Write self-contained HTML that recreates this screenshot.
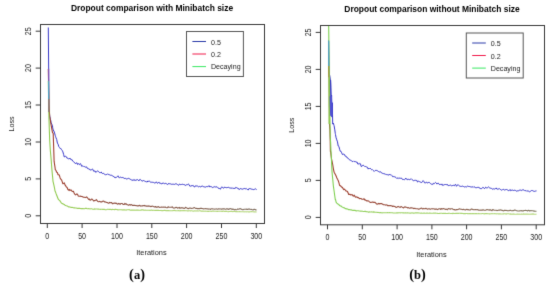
<!DOCTYPE html>
<html><head><meta charset="utf-8"><style>
html,body{margin:0;padding:0;background:#fff;width:550px;height:285px;overflow:hidden}
svg{display:block}
.t{font-family:"Liberation Sans",sans-serif;font-size:7.1px;fill:#1a1a1a}
.ti{font-family:"Liberation Sans",sans-serif;font-size:8.45px;font-weight:bold;fill:#000}
.cap{font-family:"Liberation Serif",serif;font-size:12.5px;font-weight:bold;fill:#000}
</style></head><body>
<svg width="550" height="285" viewBox="0 0 550 285">
<defs>
<filter id="soft" x="0" y="0" width="550" height="285" filterUnits="userSpaceOnUse" color-interpolation-filters="sRGB"><feConvolveMatrix order="3" kernelMatrix="0.0100 0.0800 0.0100 0.0800 0.6400 0.0800 0.0100 0.0800 0.0100" divisor="1" edgeMode="duplicate"/></filter>
<linearGradient id="gRL" gradientUnits="userSpaceOnUse" x1="50" y1="0" x2="260" y2="0"><stop offset="0" stop-color="#a03a2a"/><stop offset="0.3" stop-color="#905040"/><stop offset="1" stop-color="#807060"/></linearGradient>
<linearGradient id="gRR" gradientUnits="userSpaceOnUse" x1="330" y1="0" x2="540" y2="0"><stop offset="0" stop-color="#a03a2a"/><stop offset="0.3" stop-color="#985040"/><stop offset="1" stop-color="#807860"/></linearGradient>
<linearGradient id="gGL" gradientUnits="userSpaceOnUse" x1="50" y1="0" x2="260" y2="0"><stop offset="0" stop-color="#8cc84a"/><stop offset="0.2" stop-color="#a0d060"/><stop offset="1" stop-color="#b8d880"/></linearGradient>
<linearGradient id="gGR" gradientUnits="userSpaceOnUse" x1="330" y1="0" x2="540" y2="0"><stop offset="0" stop-color="#7cd050"/><stop offset="0.2" stop-color="#98d060"/><stop offset="1" stop-color="#b8d880"/></linearGradient>
<clipPath id="cl"><rect x="40.5" y="24.5" width="224" height="199"/></clipPath>
<clipPath id="cr"><rect x="320.5" y="25.5" width="224" height="199.3"/></clipPath>
</defs>
<g filter="url(#soft)">
<rect width="550" height="285" fill="#fff"/>
<g clip-path="url(#cl)">
<polyline points="48.3,27.5 49.0,108.7 49.7,115.8 50.4,119.9 50.7,120.0 51.1,122.9 51.8,124.2 52.5,125.8 52.7,127.9 53.2,130.0 53.9,131.0 54.6,133.1 55.3,135.7 55.5,136.3 56.0,137.8 56.7,139.5 57.4,143.1 58.1,144.2 58.7,146.4 59.4,147.4 60.1,148.5 60.8,148.4 61.5,149.7 62.2,150.3 62.9,151.9 63.6,154.4 64.3,157.0 65.0,156.4 65.7,156.2 66.4,156.9 67.1,158.3 67.8,158.2 68.5,158.8 69.2,158.8 69.9,158.0 70.6,159.4 71.3,159.6 72.0,159.6 72.7,161.1 73.4,161.6 74.1,162.0 74.8,162.8 75.5,163.8 76.2,163.1 76.9,162.7 77.6,164.5 78.3,163.6 79.0,164.2 79.6,164.7 80.3,163.5 81.0,164.6 81.7,166.3 82.4,166.0 83.1,165.9 83.8,166.6 84.5,166.6 85.2,167.2 85.9,167.0 86.6,166.9 87.3,168.4 88.0,168.4 88.7,168.9 89.4,169.0 90.1,170.0 90.8,170.0 91.5,169.7 92.2,169.1 92.9,169.4 93.6,171.2 94.3,171.2 95.0,170.8 95.7,172.3 96.4,171.8 97.1,171.4 97.8,170.8 98.5,171.4 99.2,172.3 99.9,172.7 100.5,172.6 101.2,172.0 101.9,173.2 102.6,173.5 103.3,173.3 104.0,173.8 104.7,174.2 105.4,174.9 106.1,174.5 106.8,174.6 107.5,173.9 108.2,174.2 108.9,174.8 109.6,174.8 110.3,175.3 111.0,174.8 111.7,175.4 112.4,175.6 113.1,176.6 113.8,176.3 114.5,177.5 115.2,177.9 115.9,177.1 116.6,177.3 117.3,176.6 118.0,175.8 118.7,177.4 119.4,177.7 120.1,177.2 120.8,177.2 121.5,177.6 122.1,177.7 122.8,177.4 123.5,177.7 124.2,178.6 124.9,178.3 125.6,178.4 126.3,179.0 127.0,178.6 127.7,178.9 128.4,178.2 129.1,178.6 129.8,178.9 130.5,179.4 131.2,179.5 131.9,180.5 132.6,180.2 133.3,179.6 134.0,180.6 134.7,179.6 135.4,180.5 136.1,179.7 136.8,180.2 137.5,179.6 138.2,180.1 138.9,180.9 139.6,179.6 140.3,179.4 141.0,180.4 141.7,180.7 142.4,180.9 143.0,181.2 143.7,180.4 144.4,181.1 145.1,181.2 145.8,181.7 146.5,181.8 147.2,182.0 147.9,180.9 148.6,181.4 149.3,181.1 150.0,181.7 150.7,182.2 151.4,182.2 152.1,182.4 152.8,182.2 153.5,182.4 154.2,182.7 154.9,183.2 155.6,182.8 156.3,181.8 157.0,182.9 157.7,183.3 158.4,182.5 159.1,182.2 159.8,183.5 160.5,183.3 161.2,183.6 161.9,184.0 162.6,183.0 163.3,183.1 163.9,183.3 164.6,183.7 165.3,183.3 166.0,183.8 166.7,183.8 167.4,184.4 168.1,184.3 168.8,183.2 169.5,183.9 170.2,183.8 170.9,184.0 171.6,184.3 172.3,184.3 173.0,183.9 173.7,184.3 174.4,184.4 175.1,184.2 175.8,183.7 176.5,183.9 177.2,184.3 177.9,185.0 178.6,185.3 179.3,184.2 180.0,184.1 180.7,184.7 181.4,184.5 182.1,184.3 182.8,184.3 183.5,184.5 184.2,185.0 184.8,184.5 185.5,185.5 186.2,184.8 186.9,184.8 187.6,184.6 188.3,184.1 189.0,184.5 189.7,186.0 190.4,186.4 191.1,185.4 191.8,186.0 192.5,185.6 193.2,185.4 193.9,186.7 194.6,187.0 195.3,185.9 196.0,185.8 196.7,186.0 197.4,186.0 198.1,186.5 198.8,186.9 199.5,186.4 200.2,186.8 200.9,187.0 201.6,186.1 202.3,186.1 203.0,186.2 203.7,186.8 204.4,186.9 205.1,187.1 205.8,187.0 206.4,186.6 207.1,186.9 207.8,186.4 208.5,186.2 209.2,185.7 209.9,187.1 210.6,186.5 211.3,186.7 212.0,187.0 212.7,187.6 213.4,187.2 214.1,186.6 214.8,186.9 215.5,187.0 216.2,187.1 216.9,186.6 217.6,187.3 218.3,188.4 219.0,188.0 219.7,188.7 220.4,189.2 221.1,187.8 221.8,186.8 222.5,187.4 223.2,188.2 223.9,188.0 224.6,187.1 225.3,187.4 226.0,187.6 226.7,187.7 227.3,187.6 228.0,187.3 228.7,187.4 229.4,187.8 230.1,188.3 230.8,187.9 231.5,188.2 232.2,187.7 232.9,188.6 233.6,188.3 234.3,188.3 235.0,188.7 235.7,187.4 236.4,187.5 237.1,188.4 237.8,188.1 238.5,188.5 239.2,189.7 239.9,188.7 240.6,188.6 241.3,188.8 242.0,189.3 242.7,189.1 243.4,188.8 244.1,188.3 244.8,188.7 245.5,188.8 246.2,188.4 246.9,189.3 247.6,189.6 248.2,190.0 248.9,188.6 249.6,188.6 250.3,188.7 251.0,188.9 251.7,189.2 252.4,189.3 253.1,189.5 253.8,189.6 254.5,189.3 255.2,188.7 255.9,189.1 256.6,189.6" fill="none" stroke="#3636c8" stroke-width="1.0" stroke-linejoin="round"/>
<polyline points="48.3,68.9 49.0,105.0 49.7,116.4 50.4,120.6 51.1,124.8 51.8,128.8 52.5,132.7 53.2,133.3 53.6,144.9 53.9,154.6 54.1,161.2 54.6,164.6 55.0,167.1 55.3,169.7 56.0,170.5 56.7,172.3 57.4,172.5 58.1,174.8 58.7,174.8 59.4,175.3 60.1,177.9 60.8,179.2 61.5,179.8 62.2,181.6 62.9,183.8 63.6,183.4 64.3,182.8 65.0,184.9 65.7,185.9 66.4,187.0 67.1,187.4 67.8,189.3 68.5,190.1 69.2,189.3 69.9,190.6 70.6,190.0 71.3,190.0 72.0,191.2 72.7,191.5 73.4,191.3 74.1,193.0 74.8,194.1 75.5,194.9 76.2,194.4 76.9,193.8 77.6,194.4 78.3,195.9 79.0,196.3 79.6,196.2 80.3,196.1 81.0,196.4 81.7,196.5 82.4,196.6 83.1,197.1 83.8,197.2 84.5,197.3 85.2,197.6 85.9,197.3 86.6,196.9 87.3,197.7 88.0,198.5 88.7,199.4 89.4,199.0 90.1,200.1 90.8,200.0 91.5,199.0 92.2,199.2 92.9,200.0 93.6,200.9 94.3,200.6 95.0,200.7 95.7,200.1 96.4,199.6 97.1,200.7 97.8,201.5 98.5,201.7 99.2,201.4 99.9,201.5 100.5,201.9 101.2,201.7 101.9,202.0 102.6,201.2 103.3,201.1 104.0,201.3 104.7,202.0 105.4,201.9 106.1,202.2 106.8,202.5 107.5,202.6 108.2,203.2 108.9,203.2 109.6,202.4 110.3,202.7 111.0,202.6 111.7,202.6 112.4,203.7 113.1,203.6 113.8,203.1 114.5,203.1 115.2,203.4 115.9,203.0 116.6,203.4 117.3,204.1 118.0,204.0 118.7,203.4 119.4,203.7 120.1,204.4 120.8,203.5 121.5,203.5 122.1,203.5 122.8,204.2 123.5,204.4 124.2,204.5 124.9,203.4 125.6,204.1 126.3,203.9 127.0,204.6 127.7,204.7 128.4,205.3 129.1,204.9 129.8,204.5 130.5,205.2 131.2,204.6 131.9,204.9 132.6,205.5 133.3,205.4 134.0,205.4 134.7,205.3 135.4,205.5 136.1,205.7 136.8,205.6 137.5,205.9 138.2,206.0 138.9,205.5 139.6,205.3 140.3,206.1 141.0,205.8 141.7,206.0 142.4,206.0 143.0,205.5 143.7,205.8 144.4,205.4 145.1,206.0 145.8,205.9 146.5,206.1 147.2,206.3 147.9,205.9 148.6,206.1 149.3,206.0 150.0,206.2 150.7,206.6 151.4,206.4 152.1,206.2 152.8,206.1 153.5,206.7 154.2,206.7 154.9,207.1 155.6,206.5 156.3,207.1 157.0,207.4 157.7,206.8 158.4,206.5 159.1,207.3 159.8,207.4 160.5,207.3 161.2,207.3 161.9,206.9 162.6,207.3 163.3,207.2 163.9,206.9 164.6,207.2 165.3,207.0 166.0,207.5 166.7,207.7 167.4,207.7 168.1,206.7 168.8,207.2 169.5,207.2 170.2,207.2 170.9,207.2 171.6,207.2 172.3,206.8 173.0,207.7 173.7,208.1 174.4,208.0 175.1,207.9 175.8,207.3 176.5,207.3 177.2,207.9 177.9,208.1 178.6,207.7 179.3,207.4 180.0,208.4 180.7,207.8 181.4,208.0 182.1,207.6 182.8,208.1 183.5,208.1 184.2,208.4 184.8,208.2 185.5,207.4 186.2,207.6 186.9,208.1 187.6,208.4 188.3,208.7 189.0,208.3 189.7,208.1 190.4,208.1 191.1,208.2 191.8,208.5 192.5,208.3 193.2,208.1 193.9,207.7 194.6,207.6 195.3,208.2 196.0,208.5 196.7,208.4 197.4,208.6 198.1,208.6 198.8,208.5 199.5,208.7 200.2,208.3 200.9,208.4 201.6,208.4 202.3,208.5 203.0,208.8 203.7,208.9 204.4,208.7 205.1,208.7 205.8,208.5 206.4,208.7 207.1,209.0 207.8,208.8 208.5,209.1 209.2,209.0 209.9,209.0 210.6,209.4 211.3,208.8 212.0,208.7 212.7,208.9 213.4,209.0 214.1,209.0 214.8,209.2 215.5,209.0 216.2,209.0 216.9,208.9 217.6,209.2 218.3,208.9 219.0,208.8 219.7,209.0 220.4,209.0 221.1,208.9 221.8,209.4 222.5,208.9 223.2,208.8 223.9,208.9 224.6,208.9 225.3,209.2 226.0,209.1 226.7,208.8 227.3,208.9 228.0,209.1 228.7,209.5 229.4,208.9 230.1,208.6 230.8,208.7 231.5,209.1 232.2,209.5 232.9,209.0 233.6,209.3 234.3,209.9 235.0,209.3 235.7,209.7 236.4,209.7 237.1,209.4 237.8,208.9 238.5,209.2 239.2,209.1 239.9,208.6 240.6,208.7 241.3,209.2 242.0,209.4 242.7,209.7 243.4,209.6 244.1,209.2 244.8,209.2 245.5,209.2 246.2,209.1 246.9,209.5 247.6,209.4 248.2,209.1 248.9,209.1 249.6,209.0 250.3,209.3 251.0,209.5 251.7,209.4 252.4,209.8 253.1,210.0 253.8,209.4 254.5,209.4 255.2,209.5 255.9,210.0 256.6,209.7" fill="none" stroke="url(#gRL)" stroke-width="1.1" stroke-linejoin="round"/>
<polyline points="48.3,80.7 49.0,119.8 49.7,140.3 50.4,151.2 51.1,158.7 51.2,160.1 51.8,168.3 52.1,171.6 52.5,175.7 53.0,181.3 53.2,182.2 53.9,185.2 54.6,188.5 55.0,191.0 55.3,191.3 56.0,193.4 56.7,195.2 57.4,197.0 58.1,198.9 58.7,199.7 59.4,200.3 60.1,201.0 60.8,202.2 61.5,203.1 62.2,203.6 62.9,203.8 63.6,204.3 64.3,204.5 65.0,205.2 65.7,205.5 66.4,205.8 67.1,206.0 67.8,206.3 68.5,206.9 69.2,207.0 69.9,206.9 70.6,207.2 71.3,207.5 72.0,207.3 72.7,207.5 73.4,207.7 74.1,207.9 74.8,207.9 75.5,208.0 76.2,208.0 76.9,208.3 77.6,208.4 78.3,208.3 79.0,208.4 79.6,208.3 80.3,208.5 81.0,208.6 81.7,208.6 82.4,208.6 83.1,208.5 83.8,208.7 84.5,208.7 85.2,208.4 85.9,208.3 86.6,208.4 87.3,208.7 88.0,208.7 88.7,208.6 89.4,208.8 90.1,209.0 90.8,208.8 91.5,208.8 92.2,209.0 92.9,209.2 93.6,209.2 94.3,208.9 95.0,209.1 95.7,209.0 96.4,209.0 97.1,209.0 97.8,209.1 98.5,209.1 99.2,209.3 99.9,209.3 100.5,209.4 101.2,209.2 101.9,209.3 102.6,209.4 103.3,209.4 104.0,209.4 104.7,209.4 105.4,209.7 106.1,209.7 106.8,209.5 107.5,209.2 108.2,209.3 108.9,209.5 109.6,209.4 110.3,209.3 111.0,209.5 111.7,209.6 112.4,209.4 113.1,209.5 113.8,209.5 114.5,209.6 115.2,209.4 115.9,209.4 116.6,209.5 117.3,209.6 118.0,209.9 118.7,209.7 119.4,209.7 120.1,209.7 120.8,209.7 121.5,209.8 122.1,210.0 122.8,209.8 123.5,209.9 124.2,209.9 124.9,209.9 125.6,210.0 126.3,210.1 127.0,209.8 127.7,209.8 128.4,209.7 129.1,209.6 129.8,209.9 130.5,210.2 131.2,210.1 131.9,210.1 132.6,210.1 133.3,210.0 134.0,210.2 134.7,210.1 135.4,210.2 136.1,210.0 136.8,210.1 137.5,210.1 138.2,210.1 138.9,210.2 139.6,210.2 140.3,210.3 141.0,210.1 141.7,209.9 142.4,209.8 143.0,209.9 143.7,210.1 144.4,210.2 145.1,210.0 145.8,210.2 146.5,210.2 147.2,210.3 147.9,210.3 148.6,210.3 149.3,210.3 150.0,210.4 150.7,210.3 151.4,210.1 152.1,210.3 152.8,210.4 153.5,210.3 154.2,210.3 154.9,210.5 155.6,210.4 156.3,210.3 157.0,210.4 157.7,210.4 158.4,210.3 159.1,210.5 159.8,210.5 160.5,210.5 161.2,210.4 161.9,210.7 162.6,210.6 163.3,210.6 163.9,210.4 164.6,210.4 165.3,210.4 166.0,210.7 166.7,210.5 167.4,210.6 168.1,210.6 168.8,210.5 169.5,210.7 170.2,210.8 170.9,210.7 171.6,210.8 172.3,210.7 173.0,210.6 173.7,210.5 174.4,210.4 175.1,210.6 175.8,210.8 176.5,210.8 177.2,210.8 177.9,210.8 178.6,210.6 179.3,210.8 180.0,210.9 180.7,210.6 181.4,210.7 182.1,210.6 182.8,210.7 183.5,210.6 184.2,210.7 184.8,210.6 185.5,210.7 186.2,210.7 186.9,210.8 187.6,210.9 188.3,210.9 189.0,210.8 189.7,210.8 190.4,210.9 191.1,210.7 191.8,210.8 192.5,211.0 193.2,211.1 193.9,211.0 194.6,210.9 195.3,211.0 196.0,210.9 196.7,211.0 197.4,210.9 198.1,211.0 198.8,211.0 199.5,210.8 200.2,210.7 200.9,211.1 201.6,211.1 202.3,211.1 203.0,211.0 203.7,211.2 204.4,211.2 205.1,211.1 205.8,211.2 206.4,211.2 207.1,211.2 207.8,211.4 208.5,211.4 209.2,211.2 209.9,211.2 210.6,211.2 211.3,211.4 212.0,211.3 212.7,211.1 213.4,211.1 214.1,211.3 214.8,211.3 215.5,211.2 216.2,211.3 216.9,211.4 217.6,211.4 218.3,211.2 219.0,211.2 219.7,211.2 220.4,211.3 221.1,211.3 221.8,211.4 222.5,211.4 223.2,211.1 223.9,211.3 224.6,211.5 225.3,211.4 226.0,211.4 226.7,211.3 227.3,211.5 228.0,211.7 228.7,211.6 229.4,211.5 230.1,211.5 230.8,211.4 231.5,211.4 232.2,211.5 232.9,211.6 233.6,211.5 234.3,211.3 235.0,211.5 235.7,211.6 236.4,211.6 237.1,211.5 237.8,211.7 238.5,211.7 239.2,211.6 239.9,211.6 240.6,211.7 241.3,211.7 242.0,211.7 242.7,211.7 243.4,211.8 244.1,211.9 244.8,211.8 245.5,211.7 246.2,211.9 246.9,211.8 247.6,211.8 248.2,211.9 248.9,211.9 249.6,211.9 250.3,211.7 251.0,211.6 251.7,211.6 252.4,211.8 253.1,211.8 253.8,211.9 254.5,211.9 255.2,211.8 255.9,212.0 256.6,211.9" fill="none" stroke="url(#gGL)" stroke-width="1.1" stroke-linejoin="round"/>
</g>
<g clip-path="url(#cr)">
<polyline points="328.5,40.5 329.2,73.1 329.9,76.3 330.6,82.0 330.9,95.3 331.3,105.4 331.6,95.3 332.0,117.1 332.3,102.7 332.7,124.1 333.4,123.1 333.9,125.2 334.1,125.7 334.8,129.9 335.3,133.6 335.5,134.6 336.1,137.8 336.8,139.9 337.5,141.9 338.2,146.0 338.9,146.4 339.6,149.3 340.3,151.3 341.0,151.3 341.7,152.8 342.4,154.5 343.1,154.5 343.8,154.0 344.5,154.5 345.2,156.2 345.9,156.3 346.6,156.7 347.3,158.0 348.0,158.1 348.7,158.8 349.4,159.8 350.1,160.2 350.8,160.3 351.5,160.7 352.1,161.5 352.8,161.6 353.5,160.9 354.2,161.6 354.9,161.6 355.6,161.7 356.3,162.2 357.0,161.9 357.7,163.9 358.4,163.8 359.1,164.3 359.8,163.3 360.5,163.9 361.2,166.5 361.9,166.4 362.6,165.4 363.3,165.3 364.0,165.7 364.7,166.5 365.4,166.5 366.1,166.6 366.8,167.2 367.5,167.3 368.2,169.1 368.8,168.2 369.5,168.9 370.2,168.2 370.9,169.1 371.6,169.7 372.3,169.5 373.0,170.3 373.7,170.9 374.4,171.3 375.1,170.6 375.8,170.3 376.5,170.3 377.2,171.0 377.9,170.8 378.6,171.6 379.3,172.0 380.0,171.8 380.7,171.8 381.4,172.8 382.1,173.2 382.8,173.4 383.5,173.6 384.2,174.1 384.8,173.6 385.5,174.3 386.2,174.3 386.9,175.0 387.6,174.7 388.3,174.8 389.0,175.2 389.7,174.3 390.4,175.0 391.1,174.7 391.8,175.4 392.5,176.6 393.2,176.7 393.9,176.5 394.6,176.8 395.3,177.1 396.0,177.5 396.7,178.4 397.4,178.0 398.1,178.7 398.8,177.8 399.5,178.2 400.2,178.4 400.8,178.1 401.5,178.1 402.2,179.2 402.9,179.6 403.6,179.5 404.3,179.9 405.0,179.2 405.7,178.1 406.4,179.2 407.1,178.9 407.8,179.8 408.5,179.3 409.2,179.6 409.9,179.6 410.6,179.2 411.3,178.8 412.0,179.6 412.7,180.1 413.4,180.7 414.1,180.2 414.8,180.5 415.5,180.3 416.2,180.6 416.8,180.3 417.5,182.0 418.2,181.5 418.9,181.0 419.6,181.7 420.3,182.1 421.0,182.1 421.7,182.6 422.4,181.7 423.1,180.6 423.8,181.4 424.5,182.8 425.2,182.9 425.9,182.6 426.6,182.1 427.3,183.0 428.0,183.0 428.7,182.3 429.4,182.4 430.1,183.2 430.8,183.9 431.5,184.2 432.2,184.0 432.9,184.5 433.5,183.3 434.2,183.6 434.9,183.1 435.6,182.4 436.3,183.0 437.0,184.1 437.7,183.3 438.4,183.2 439.1,184.3 439.8,184.6 440.5,184.4 441.2,184.8 441.9,183.9 442.6,185.4 443.3,185.2 444.0,184.7 444.7,184.6 445.4,184.5 446.1,184.5 446.8,184.7 447.5,184.5 448.2,185.8 448.9,185.3 449.5,185.4 450.2,185.1 450.9,185.2 451.6,185.8 452.3,185.7 453.0,185.1 453.7,185.4 454.4,185.7 455.1,184.5 455.8,184.6 456.5,186.3 457.2,185.6 457.9,184.6 458.6,185.3 459.3,185.9 460.0,186.2 460.7,186.4 461.4,186.4 462.1,186.4 462.8,186.0 463.5,186.5 464.2,186.8 464.9,187.1 465.5,186.7 466.2,187.0 466.9,186.7 467.6,186.1 468.3,186.4 469.0,186.4 469.7,186.6 470.4,186.8 471.1,187.0 471.8,187.0 472.5,186.8 473.2,187.4 473.9,186.6 474.6,187.1 475.3,187.6 476.0,187.6 476.7,187.7 477.4,187.4 478.1,187.6 478.8,187.1 479.5,188.0 480.2,188.8 480.9,188.4 481.5,188.7 482.2,187.9 482.9,187.3 483.6,187.6 484.3,188.6 485.0,188.3 485.7,187.2 486.4,187.8 487.1,188.0 487.8,187.5 488.5,186.9 489.2,187.5 489.9,188.1 490.6,188.2 491.3,188.2 492.0,188.9 492.7,189.2 493.4,188.8 494.1,189.2 494.8,188.9 495.5,188.6 496.2,187.9 496.9,189.1 497.6,189.2 498.2,189.1 498.9,188.8 499.6,188.7 500.3,189.4 501.0,189.8 501.7,190.2 502.4,189.9 503.1,189.2 503.8,189.5 504.5,190.0 505.2,189.8 505.9,189.6 506.6,189.5 507.3,189.9 508.0,190.1 508.7,190.7 509.4,190.4 510.1,189.5 510.8,190.8 511.5,190.3 512.2,190.0 512.9,190.3 513.6,190.5 514.2,190.3 514.9,190.2 515.6,190.5 516.3,191.2 517.0,190.7 517.7,190.9 518.4,190.8 519.1,190.4 519.8,190.1 520.5,190.1 521.2,190.6 521.9,190.1 522.6,189.9 523.3,189.9 524.0,189.9 524.7,190.6 525.4,190.7 526.1,190.5 526.8,191.3 527.5,190.9 528.2,191.1 528.9,191.2 529.6,191.8 530.2,191.5 530.9,190.9 531.6,190.5 532.3,190.5 533.0,191.0 533.7,191.2 534.4,191.4 535.1,191.0 535.8,191.1 536.5,190.9" fill="none" stroke="#3636c8" stroke-width="1.0" stroke-linejoin="round"/>
<polyline points="328.5,65.7 329.2,78.3 329.5,124.9 329.9,129.6 330.2,139.7 330.4,151.5 330.6,151.5 331.3,157.2 331.5,158.8 332.0,161.0 332.7,164.5 333.4,168.8 334.1,172.1 334.4,172.8 334.8,173.4 335.5,174.7 336.1,176.0 336.8,177.7 337.5,179.2 338.2,180.5 338.9,182.6 339.6,185.3 340.3,185.8 341.0,186.3 341.7,187.2 342.4,187.3 343.1,188.7 343.8,189.6 344.5,189.1 345.2,190.0 345.9,190.9 346.6,191.0 347.3,191.4 348.0,192.6 348.7,194.5 349.4,194.2 350.1,194.4 350.8,195.0 351.5,194.7 352.1,194.5 352.8,195.7 353.5,196.1 354.2,195.2 354.9,196.4 355.6,197.2 356.3,196.9 357.0,197.0 357.7,197.7 358.4,197.5 359.1,198.3 359.8,198.7 360.5,198.5 361.2,198.5 361.9,199.3 362.6,199.3 363.3,199.3 364.0,198.7 364.7,200.0 365.4,199.9 366.1,200.6 366.8,200.9 367.5,200.8 368.2,200.9 368.8,201.1 369.5,201.8 370.2,202.4 370.9,202.5 371.6,202.2 372.3,202.1 373.0,202.0 373.7,202.4 374.4,202.3 375.1,202.4 375.8,203.1 376.5,203.9 377.2,204.1 377.9,204.0 378.6,203.3 379.3,203.9 380.0,203.5 380.7,203.6 381.4,203.5 382.1,203.8 382.8,204.4 383.5,204.6 384.2,204.7 384.8,204.8 385.5,205.1 386.2,205.0 386.9,204.8 387.6,205.7 388.3,205.5 389.0,205.8 389.7,205.6 390.4,205.5 391.1,205.8 391.8,205.9 392.5,206.5 393.2,206.1 393.9,206.5 394.6,206.4 395.3,206.7 396.0,207.5 396.7,207.2 397.4,206.7 398.1,206.4 398.8,206.8 399.5,207.0 400.2,207.4 400.8,206.7 401.5,206.6 402.2,207.2 402.9,207.5 403.6,207.9 404.3,207.2 405.0,206.7 405.7,207.2 406.4,207.3 407.1,207.6 407.8,208.0 408.5,207.6 409.2,208.2 409.9,208.1 410.6,207.9 411.3,207.7 412.0,207.9 412.7,208.0 413.4,208.4 414.1,208.6 414.8,208.3 415.5,208.6 416.2,208.8 416.8,208.8 417.5,208.7 418.2,209.1 418.9,209.1 419.6,209.0 420.3,208.6 421.0,208.3 421.7,208.1 422.4,208.9 423.1,208.8 423.8,208.4 424.5,208.7 425.2,208.7 425.9,208.2 426.6,208.8 427.3,209.1 428.0,209.1 428.7,208.7 429.4,208.7 430.1,209.2 430.8,209.1 431.5,208.7 432.2,208.7 432.9,208.9 433.5,208.7 434.2,208.8 434.9,209.4 435.6,209.1 436.3,208.9 437.0,209.2 437.7,209.6 438.4,209.1 439.1,208.7 439.8,208.7 440.5,209.4 441.2,208.5 441.9,209.2 442.6,208.8 443.3,208.6 444.0,208.8 444.7,209.1 445.4,209.4 446.1,209.1 446.8,209.5 447.5,209.7 448.2,208.5 448.9,208.7 449.5,208.7 450.2,209.3 450.9,208.8 451.6,208.7 452.3,208.8 453.0,209.3 453.7,209.6 454.4,209.5 455.1,210.0 455.8,209.9 456.5,209.5 457.2,209.6 457.9,209.5 458.6,209.3 459.3,208.8 460.0,209.0 460.7,209.3 461.4,209.2 462.1,209.6 462.8,209.5 463.5,209.3 464.2,209.8 464.9,209.7 465.5,209.9 466.2,209.5 466.9,209.2 467.6,209.7 468.3,209.6 469.0,209.9 469.7,210.0 470.4,209.9 471.1,209.2 471.8,208.9 472.5,209.5 473.2,209.8 473.9,209.6 474.6,209.7 475.3,209.5 476.0,209.6 476.7,209.7 477.4,209.6 478.1,209.9 478.8,210.1 479.5,210.3 480.2,210.1 480.9,210.3 481.5,210.0 482.2,210.1 482.9,209.9 483.6,209.9 484.3,210.3 485.0,210.3 485.7,210.2 486.4,209.8 487.1,209.5 487.8,209.7 488.5,210.0 489.2,209.8 489.9,210.3 490.6,209.8 491.3,210.3 492.0,210.7 492.7,209.5 493.4,209.7 494.1,210.3 494.8,210.2 495.5,210.2 496.2,210.3 496.9,210.6 497.6,210.5 498.2,210.2 498.9,210.1 499.6,210.0 500.3,210.1 501.0,209.8 501.7,210.4 502.4,210.4 503.1,210.9 503.8,210.7 504.5,210.2 505.2,210.5 505.9,210.3 506.6,210.5 507.3,210.7 508.0,210.6 508.7,210.7 509.4,210.6 510.1,210.3 510.8,210.4 511.5,210.7 512.2,210.8 512.9,210.6 513.6,210.6 514.2,210.2 514.9,209.9 515.6,210.3 516.3,210.6 517.0,210.8 517.7,211.0 518.4,211.0 519.1,211.0 519.8,210.9 520.5,210.8 521.2,210.6 521.9,210.9 522.6,210.9 523.3,211.0 524.0,210.5 524.7,210.5 525.4,210.4 526.1,210.5 526.8,210.5 527.5,210.9 528.2,210.6 528.9,210.3 529.6,211.0 530.2,210.7 530.9,210.5 531.6,210.8 532.3,210.8 533.0,210.7 533.7,211.1 534.4,211.0 535.1,211.3 535.8,211.3 536.5,211.3" fill="none" stroke="url(#gRR)" stroke-width="1.1" stroke-linejoin="round"/>
<polyline points="328.5,10.2 329.2,69.4 329.9,117.0 330.2,136.3 330.6,142.2 330.9,150.1 331.3,156.6 332.0,171.6 332.7,178.9 333.4,186.1 334.1,191.0 334.8,196.3 335.3,199.6 335.5,199.4 336.1,202.2 336.8,203.1 337.5,203.7 338.2,204.3 338.9,204.6 339.6,205.6 340.3,205.9 341.0,206.0 341.7,206.7 342.4,207.1 343.1,207.4 343.8,207.8 344.5,207.9 345.2,208.6 345.9,208.6 346.6,209.0 347.3,208.9 348.0,209.2 348.7,209.7 349.4,209.6 350.1,209.8 350.8,209.9 351.5,209.8 352.1,210.3 352.8,210.4 353.5,210.3 354.2,210.4 354.9,210.4 355.6,210.6 356.3,210.9 357.0,210.8 357.7,210.7 358.4,210.8 359.1,211.0 359.8,211.0 360.5,211.1 361.2,211.2 361.9,211.0 362.6,211.3 363.3,211.5 364.0,211.5 364.7,211.4 365.4,211.4 366.1,211.6 366.8,211.8 367.5,211.8 368.2,212.1 368.8,212.1 369.5,211.9 370.2,212.0 370.9,212.0 371.6,211.9 372.3,212.0 373.0,212.1 373.7,211.9 374.4,212.1 375.1,212.3 375.8,212.2 376.5,212.3 377.2,212.5 377.9,212.4 378.6,212.5 379.3,212.8 380.0,212.6 380.7,212.6 381.4,212.7 382.1,212.9 382.8,212.8 383.5,212.7 384.2,212.7 384.8,212.8 385.5,212.7 386.2,212.8 386.9,212.7 387.6,212.6 388.3,212.8 389.0,212.8 389.7,212.6 390.4,212.8 391.1,212.8 391.8,212.7 392.5,212.7 393.2,213.0 393.9,213.0 394.6,213.0 395.3,213.0 396.0,213.0 396.7,212.9 397.4,212.8 398.1,212.9 398.8,212.8 399.5,212.8 400.2,212.9 400.8,212.8 401.5,212.7 402.2,212.8 402.9,212.9 403.6,212.9 404.3,213.0 405.0,212.9 405.7,212.8 406.4,213.0 407.1,212.9 407.8,212.8 408.5,213.0 409.2,213.0 409.9,213.1 410.6,213.1 411.3,213.0 412.0,212.7 412.7,213.0 413.4,213.1 414.1,213.1 414.8,213.0 415.5,212.9 416.2,212.9 416.8,212.8 417.5,212.9 418.2,212.9 418.9,213.0 419.6,213.0 420.3,213.2 421.0,213.1 421.7,213.1 422.4,213.2 423.1,213.3 423.8,213.1 424.5,213.1 425.2,213.2 425.9,213.2 426.6,213.1 427.3,213.1 428.0,213.3 428.7,213.3 429.4,213.1 430.1,213.1 430.8,213.2 431.5,213.3 432.2,213.3 432.9,213.2 433.5,213.1 434.2,213.3 434.9,213.0 435.6,213.1 436.3,213.2 437.0,213.2 437.7,213.4 438.4,213.5 439.1,213.5 439.8,213.4 440.5,213.3 441.2,213.3 441.9,213.3 442.6,213.5 443.3,213.3 444.0,213.5 444.7,213.4 445.4,213.4 446.1,213.5 446.8,213.5 447.5,213.5 448.2,213.4 448.9,213.3 449.5,213.3 450.2,213.5 450.9,213.5 451.6,213.5 452.3,213.4 453.0,213.6 453.7,213.3 454.4,213.5 455.1,213.5 455.8,213.4 456.5,213.3 457.2,213.4 457.9,213.3 458.6,213.4 459.3,213.3 460.0,213.3 460.7,213.4 461.4,213.3 462.1,213.4 462.8,213.5 463.5,213.6 464.2,213.6 464.9,213.5 465.5,213.6 466.2,213.5 466.9,213.5 467.6,213.6 468.3,213.8 469.0,213.6 469.7,213.5 470.4,213.6 471.1,213.6 471.8,213.8 472.5,213.6 473.2,213.6 473.9,213.6 474.6,213.8 475.3,213.6 476.0,213.6 476.7,213.6 477.4,213.7 478.1,213.7 478.8,213.4 479.5,213.7 480.2,213.8 480.9,213.7 481.5,213.8 482.2,213.5 482.9,213.5 483.6,213.8 484.3,213.9 485.0,213.6 485.7,213.6 486.4,213.6 487.1,213.6 487.8,213.8 488.5,213.8 489.2,213.9 489.9,213.9 490.6,213.7 491.3,213.8 492.0,213.6 492.7,213.7 493.4,213.8 494.1,213.7 494.8,213.6 495.5,213.8 496.2,213.9 496.9,213.8 497.6,213.7 498.2,213.9 498.9,213.9 499.6,213.8 500.3,213.9 501.0,214.0 501.7,214.0 502.4,214.0 503.1,213.9 503.8,213.9 504.5,213.8 505.2,213.8 505.9,214.1 506.6,213.9 507.3,213.8 508.0,213.8 508.7,213.8 509.4,214.0 510.1,214.1 510.8,213.9 511.5,214.1 512.2,214.2 512.9,213.9 513.6,214.1 514.2,214.1 514.9,214.2 515.6,214.2 516.3,214.2 517.0,214.1 517.7,214.1 518.4,214.3 519.1,214.0 519.8,214.2 520.5,214.2 521.2,214.0 521.9,214.1 522.6,214.2 523.3,213.9 524.0,214.1 524.7,214.1 525.4,214.1 526.1,214.0 526.8,214.1 527.5,214.1 528.2,214.2 528.9,214.1 529.6,214.2 530.2,214.2 530.9,214.0 531.6,214.1 532.3,214.1 533.0,213.9 533.7,214.1 534.4,214.3 535.1,214.2 535.8,214.3 536.5,214.1" fill="none" stroke="url(#gGR)" stroke-width="1.1" stroke-linejoin="round"/>
</g>
<g stroke-width="1.2">
<line x1="48.6" y1="68.7" x2="48.6" y2="81.3" stroke="#8050b0"/>
<line x1="48.6" y1="81.3" x2="48.6" y2="99" stroke="#50a0c0"/>
<line x1="48.8" y1="99" x2="48.8" y2="112" stroke="#907080"/>
<line x1="328.7" y1="40.8" x2="328.7" y2="66" stroke="#50a0c0"/>
<line x1="328.7" y1="66" x2="328.7" y2="77.4" stroke="#a0a040"/>
<line x1="329.1" y1="77.4" x2="329.3" y2="124" stroke="#8cc84a" stroke-width="1.5"/>
<line x1="330.6" y1="80" x2="331.0" y2="97" stroke="#3636c8" stroke-width="1.1"/>
<line x1="330.8" y1="97" x2="331.3" y2="115" stroke="#5050d4" stroke-width="2.4" stroke-linecap="round"/>
</g>
<rect x="40.5" y="24.5" width="224.0" height="199.0" fill="none" stroke="#383838" stroke-width="1"/>
<line x1="47.3" y1="223.5" x2="47.3" y2="228.0" stroke="#383838" stroke-width="1"/>
<text transform="translate(47.3,239.0) scale(1,1.15)" text-anchor="middle" class="t">0</text>
<line x1="82.1" y1="223.5" x2="82.1" y2="228.0" stroke="#383838" stroke-width="1"/>
<text transform="translate(82.1,239.0) scale(1,1.15)" text-anchor="middle" class="t">50</text>
<line x1="117.0" y1="223.5" x2="117.0" y2="228.0" stroke="#383838" stroke-width="1"/>
<text transform="translate(117.0,239.0) scale(1,1.15)" text-anchor="middle" class="t">100</text>
<line x1="151.8" y1="223.5" x2="151.8" y2="228.0" stroke="#383838" stroke-width="1"/>
<text transform="translate(151.8,239.0) scale(1,1.15)" text-anchor="middle" class="t">150</text>
<line x1="186.6" y1="223.5" x2="186.6" y2="228.0" stroke="#383838" stroke-width="1"/>
<text transform="translate(186.6,239.0) scale(1,1.15)" text-anchor="middle" class="t">200</text>
<line x1="221.5" y1="223.5" x2="221.5" y2="228.0" stroke="#383838" stroke-width="1"/>
<text transform="translate(221.5,239.0) scale(1,1.15)" text-anchor="middle" class="t">250</text>
<line x1="256.3" y1="223.5" x2="256.3" y2="228.0" stroke="#383838" stroke-width="1"/>
<text transform="translate(256.3,239.0) scale(1,1.15)" text-anchor="middle" class="t">300</text>
<line x1="35.7" y1="215.8" x2="40.5" y2="215.8" stroke="#383838" stroke-width="1"/>
<text x="0" y="0" transform="translate(30.7,215.8) rotate(-90) scale(1,1.15)" text-anchor="middle" class="t">0</text>
<line x1="35.7" y1="178.9" x2="40.5" y2="178.9" stroke="#383838" stroke-width="1"/>
<text x="0" y="0" transform="translate(30.7,178.9) rotate(-90) scale(1,1.15)" text-anchor="middle" class="t">5</text>
<line x1="35.7" y1="142.0" x2="40.5" y2="142.0" stroke="#383838" stroke-width="1"/>
<text x="0" y="0" transform="translate(30.7,142.0) rotate(-90) scale(1,1.15)" text-anchor="middle" class="t">10</text>
<line x1="35.7" y1="105.0" x2="40.5" y2="105.0" stroke="#383838" stroke-width="1"/>
<text x="0" y="0" transform="translate(30.7,105.0) rotate(-90) scale(1,1.15)" text-anchor="middle" class="t">15</text>
<line x1="35.7" y1="68.1" x2="40.5" y2="68.1" stroke="#383838" stroke-width="1"/>
<text x="0" y="0" transform="translate(30.7,68.1) rotate(-90) scale(1,1.15)" text-anchor="middle" class="t">20</text>
<line x1="35.7" y1="31.2" x2="40.5" y2="31.2" stroke="#383838" stroke-width="1"/>
<text x="0" y="0" transform="translate(30.7,31.2) rotate(-90) scale(1,1.15)" text-anchor="middle" class="t">25</text>
<text transform="translate(151.4,255.2) scale(1.04,1.08)" text-anchor="middle" class="t">Iterations</text>
<text x="0" y="0" transform="translate(13.8,124.0) rotate(-90)" text-anchor="middle" class="t">Loss</text>
<text transform="translate(152,11) scale(1,1.0)" text-anchor="middle" class="ti">Dropout comparison with Minibatch size</text>
<text x="137" y="279" text-anchor="middle" class="cap"><tspan font-size="14.3px">(</tspan>a<tspan font-size="14.3px">)</tspan></text>
<rect x="320.5" y="25.5" width="224.0" height="199.3" fill="none" stroke="#383838" stroke-width="1"/>
<line x1="327.5" y1="224.8" x2="327.5" y2="229.3" stroke="#383838" stroke-width="1"/>
<text transform="translate(327.5,240.3) scale(1,1.15)" text-anchor="middle" class="t">0</text>
<line x1="362.3" y1="224.8" x2="362.3" y2="229.3" stroke="#383838" stroke-width="1"/>
<text transform="translate(362.3,240.3) scale(1,1.15)" text-anchor="middle" class="t">50</text>
<line x1="397.1" y1="224.8" x2="397.1" y2="229.3" stroke="#383838" stroke-width="1"/>
<text transform="translate(397.1,240.3) scale(1,1.15)" text-anchor="middle" class="t">100</text>
<line x1="431.9" y1="224.8" x2="431.9" y2="229.3" stroke="#383838" stroke-width="1"/>
<text transform="translate(431.9,240.3) scale(1,1.15)" text-anchor="middle" class="t">150</text>
<line x1="466.6" y1="224.8" x2="466.6" y2="229.3" stroke="#383838" stroke-width="1"/>
<text transform="translate(466.6,240.3) scale(1,1.15)" text-anchor="middle" class="t">200</text>
<line x1="501.4" y1="224.8" x2="501.4" y2="229.3" stroke="#383838" stroke-width="1"/>
<text transform="translate(501.4,240.3) scale(1,1.15)" text-anchor="middle" class="t">250</text>
<line x1="536.2" y1="224.8" x2="536.2" y2="229.3" stroke="#383838" stroke-width="1"/>
<text transform="translate(536.2,240.3) scale(1,1.15)" text-anchor="middle" class="t">300</text>
<line x1="315.7" y1="217.4" x2="320.5" y2="217.4" stroke="#383838" stroke-width="1"/>
<text x="0" y="0" transform="translate(310.7,217.4) rotate(-90) scale(1,1.15)" text-anchor="middle" class="t">0</text>
<line x1="315.7" y1="180.4" x2="320.5" y2="180.4" stroke="#383838" stroke-width="1"/>
<text x="0" y="0" transform="translate(310.7,180.4) rotate(-90) scale(1,1.15)" text-anchor="middle" class="t">5</text>
<line x1="315.7" y1="143.4" x2="320.5" y2="143.4" stroke="#383838" stroke-width="1"/>
<text x="0" y="0" transform="translate(310.7,143.4) rotate(-90) scale(1,1.15)" text-anchor="middle" class="t">10</text>
<line x1="315.7" y1="106.4" x2="320.5" y2="106.4" stroke="#383838" stroke-width="1"/>
<text x="0" y="0" transform="translate(310.7,106.4) rotate(-90) scale(1,1.15)" text-anchor="middle" class="t">15</text>
<line x1="315.7" y1="69.4" x2="320.5" y2="69.4" stroke="#383838" stroke-width="1"/>
<text x="0" y="0" transform="translate(310.7,69.4) rotate(-90) scale(1,1.15)" text-anchor="middle" class="t">20</text>
<line x1="315.7" y1="32.4" x2="320.5" y2="32.4" stroke="#383838" stroke-width="1"/>
<text x="0" y="0" transform="translate(310.7,32.4) rotate(-90) scale(1,1.15)" text-anchor="middle" class="t">25</text>
<text transform="translate(431.4,256.5) scale(1.04,1.08)" text-anchor="middle" class="t">Iterations</text>
<text x="0" y="0" transform="translate(293.8,125.2) rotate(-90)" text-anchor="middle" class="t">Loss</text>
<text transform="translate(432,12.4) scale(1,1.0)" text-anchor="middle" class="ti">Dropout comparison without Minibatch size</text>
<text x="417.5" y="279" text-anchor="middle" class="cap"><tspan font-size="14.3px">(</tspan>b<tspan font-size="14.3px">)</tspan></text>
<rect x="186.5" y="31.5" width="56.900000000000006" height="45.0" fill="#fff" stroke="#555" stroke-width="1"/>
<line x1="192.4" y1="41.5" x2="206.0" y2="41.5" stroke="#2838a8" stroke-width="1.0"/>
<text x="211.0" y="44.7" class="t">0.5</text>
<line x1="192.4" y1="54.0" x2="206.0" y2="54.0" stroke="#f01848" stroke-width="1.0"/>
<text x="211.0" y="57.0" class="t">0.2</text>
<line x1="192.4" y1="66.6" x2="206.0" y2="66.6" stroke="#38e860" stroke-width="1.0"/>
<text x="211.0" y="69.4" class="t">Decaying</text>
<rect x="466.3" y="33.0" width="56.900000000000006" height="45.0" fill="#fff" stroke="#555" stroke-width="1"/>
<line x1="472.20000000000005" y1="43.0" x2="485.8" y2="43.0" stroke="#2838a8" stroke-width="1.0"/>
<text x="490.8" y="46.2" class="t">0.5</text>
<line x1="472.20000000000005" y1="55.5" x2="485.8" y2="55.5" stroke="#f01848" stroke-width="1.0"/>
<text x="490.8" y="58.5" class="t">0.2</text>
<line x1="472.20000000000005" y1="68.1" x2="485.8" y2="68.1" stroke="#38e860" stroke-width="1.0"/>
<text x="490.8" y="70.9" class="t">Decaying</text>
</g>
</svg>
</body></html>
